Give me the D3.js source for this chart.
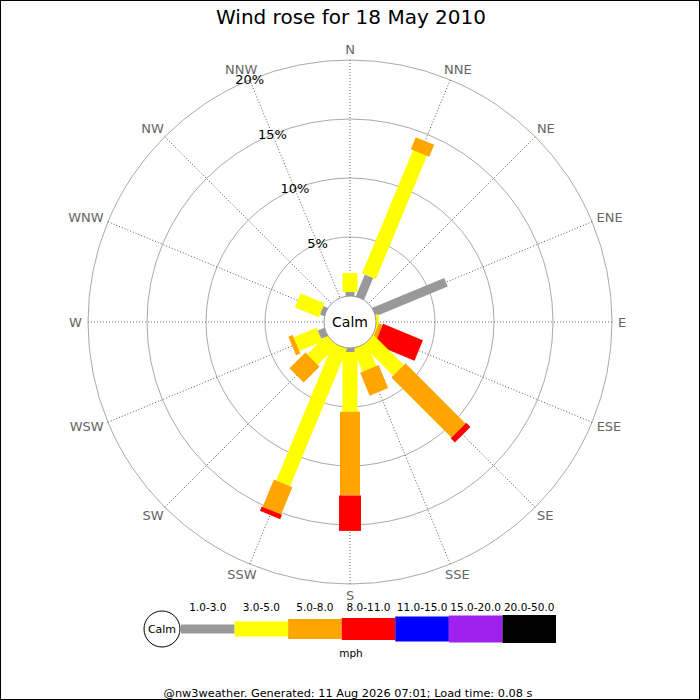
<html>
<head>
    <script type="text/javascript" src="https://d3js.org/d3.v7.min.js"></script>
    <meta charset="UTF-8">
    <style>
        body { margin: 0; background: #fff; }
        svg { font-family: "DejaVu Sans", sans-serif; display: block; }
    </style>
</head>
<body>
    <svg width="700" height="700"></svg>
    <script>
        // directions, clockwise from north
        var directions = ["N","NNE","NE","ENE","E","ESE","SE","SSE","S","SSW","SW","WSW","W","WNW","NW","NNW"];
        var speedBins = ["1.0-3.0","3.0-5.0","5.0-8.0","8.0-11.0","11.0-15.0","15.0-20.0","20.0-50.0"];
        var pctTicks = [5, 10, 15, 20];

        // % of time in each speed bin, per direction
        var bin1to3   = [0.35, 2.0, 0, 6.6, 0,    0,    0,   0,   0.35, 0,    0,   0.6, 0, 0.4, 0, 0];
        var bin3to5   = [1.6, 11.3, 0, 0,   0.25, 0.1,  3.6, 2.1, 5.05, 12.6, 2.3, 2.1, 0, 2.2, 0, 0];
        var bin5to8   = [0,    1.1, 0, 0,   0,    0.35, 7.2, 2.1, 7.1,  2.5,  1.9, 0.4, 0, 0,   0, 0];
        var bin8to11  = [0,    0,   0, 0,   0,    3.65, 0.5, 0,   3.0,  0.4,  0,   0,   0, 0,   0, 0];
        var bin11to15 = [0,0,0,0,0,0,0,0,0,0,0,0,0,0,0,0];
        var bin15to20 = [0,0,0,0,0,0,0,0,0,0,0,0,0,0,0,0];
        var bin20to50 = [0,0,0,0,0,0,0,0,0,0,0,0,0,0,0,0];
        var series = [bin1to3, bin3to5, bin5to8, bin8to11, bin11to15, bin15to20, bin20to50];

        var colours = ["#999999","#ffff00","#ffa500","#ff0000","#0000ff","#a020f0","#000000"];
        var barWidth = [9, 15, 20, 22, 25, 27, 28];

        var svg = d3.select("svg");
        var cx = 350, cy = 322;
        var calmR = 26, outerR = 262;

        svg.append("rect")
            .attr("x",0.5).attr("y",0.5).attr("width",699).attr("height",699)
            .attr("fill","#fff").attr("stroke","#000");

        svg.append("text")
            .attr("x",351).attr("y",24)
            .attr("text-anchor","middle")
            .attr("font-size",20)
            .text("Wind rose for 18 May 2010");

        var r = d3.scaleLinear().domain([0,20]).range([calmR,outerR]);
        var angle = d3.scalePoint().domain(directions).range([0,337.5]);
        var rad = function(d){ return angle(d)*Math.PI/180; };

        var g = svg.append("g").attr("transform","translate("+cx+","+cy+")");

        // rings
        g.selectAll(".ring")
            .data(pctTicks)
            .enter()
            .append("circle")
            .attr("r",function(d){ return r(d); })
            .attr("fill","none")
            .attr("stroke","#aaa")
            .attr("stroke-width",1);

        // spokes
        g.selectAll(".spoke")
            .data(directions)
            .enter()
            .append("line")
            .attr("x1",0).attr("y1",0)
            .attr("x2",0).attr("y2",-outerR)
            .attr("transform",function(d){ return "rotate("+angle(d)+")"; })
            .attr("stroke","#444")
            .attr("stroke-width",0.8)
            .attr("stroke-dasharray","1,2");

        // direction labels: pushed out by half their box along the spoke
        var labR = 268;
        g.selectAll(".dirLabel")
            .data(directions)
            .enter()
            .append("text")
            .attr("text-anchor","middle")
            .attr("dominant-baseline","central")
            .attr("font-size",13)
            .attr("fill","#666")
            .text(function(d){ return d; })
            .each(function(d){
                var w = this.getBBox().width;
                var s = Math.sin(rad(d)), c = Math.cos(rad(d));
                d3.select(this)
                    .attr("x", labR*s + s*w/2)
                    .attr("y", -labR*c - c*5);
            });

        // bars, stacked outwards
        var segs = [];
        directions.forEach(function(dir,i){
            var cum = 0;
            series.forEach(function(s,k){
                var v = s[i];
                if (v > 0) {
                    segs.push({dir:dir, k:k, from:cum, to:cum+v});
                    cum += v;
                }
            });
        });

        g.selectAll(".seg")
            .data(segs)
            .enter()
            .append("rect")
            .attr("transform",function(d){ return "rotate("+angle(d.dir)+")"; })
            .attr("x",function(d){ return -barWidth[d.k]/2; })
            .attr("width",function(d){ return barWidth[d.k]; })
            .attr("y",function(d){ return -r(d.to); })
            .attr("height",function(d){
                var inner = d.from==0 ? 0 : r(d.from);
                return r(d.to)-inner;
            })
            .attr("fill",function(d){ return colours[d.k]; });

        // calm circle
        g.append("circle")
            .attr("r",calmR)
            .attr("fill","#fff")
            .attr("stroke","#999");
        g.append("text")
            .attr("y",0)
            .attr("text-anchor","middle")
            .attr("dominant-baseline","central")
            .attr("font-size",14)
            .text("Calm");

        // % labels on the NNW spoke
        var a = rad("NNW");
        g.selectAll(".pct")
            .data(pctTicks)
            .enter()
            .append("text")
            .attr("x",function(d){ return r(d)*Math.sin(a); })
            .attr("y",function(d){ return -r(d)*Math.cos(a); })
            .attr("text-anchor","middle")
            .attr("dominant-baseline","central")
            .attr("font-size",13)
            .text(function(d){ return d+"%"; });

        // legend
        var lx = d3.scaleBand().domain(speedBins).range([181,556]);
        var ly = 629;
        var leg = svg.append("g");
        leg.selectAll("rect")
            .data(speedBins)
            .enter()
            .append("rect")
            .attr("x",function(d){ return lx(d); })
            .attr("width",lx.bandwidth())
            .attr("y",function(d,i){ return ly-barWidth[i]/2; })
            .attr("height",function(d,i){ return barWidth[i]; })
            .attr("fill",function(d,i){ return colours[i]; });
        leg.selectAll("text")
            .data(speedBins)
            .enter()
            .append("text")
            .attr("x",function(d){ return lx(d)+lx.bandwidth()/2; })
            .attr("y",611)
            .attr("text-anchor","middle")
            .attr("font-size",10.5)
            .text(function(d){ return d; });
        leg.append("circle")
            .attr("cx",162).attr("cy",ly).attr("r",18)
            .attr("fill","#fff").attr("stroke","#000");
        leg.append("text")
            .attr("x",162).attr("y",ly)
            .attr("text-anchor","middle")
            .attr("dominant-baseline","central")
            .attr("font-size",11)
            .text("Calm");
        leg.append("text")
            .attr("x",351).attr("y",657)
            .attr("text-anchor","middle")
            .attr("font-size",10.5)
            .text("mph");

        svg.append("text")
            .attr("x",348).attr("y",697)
            .attr("text-anchor","middle")
            .attr("font-size",11.3)
            .text("@nw3weather. Generated: 11 Aug 2026 07:01; Load time: 0.08 s");
    </script>
</body>
</html>
